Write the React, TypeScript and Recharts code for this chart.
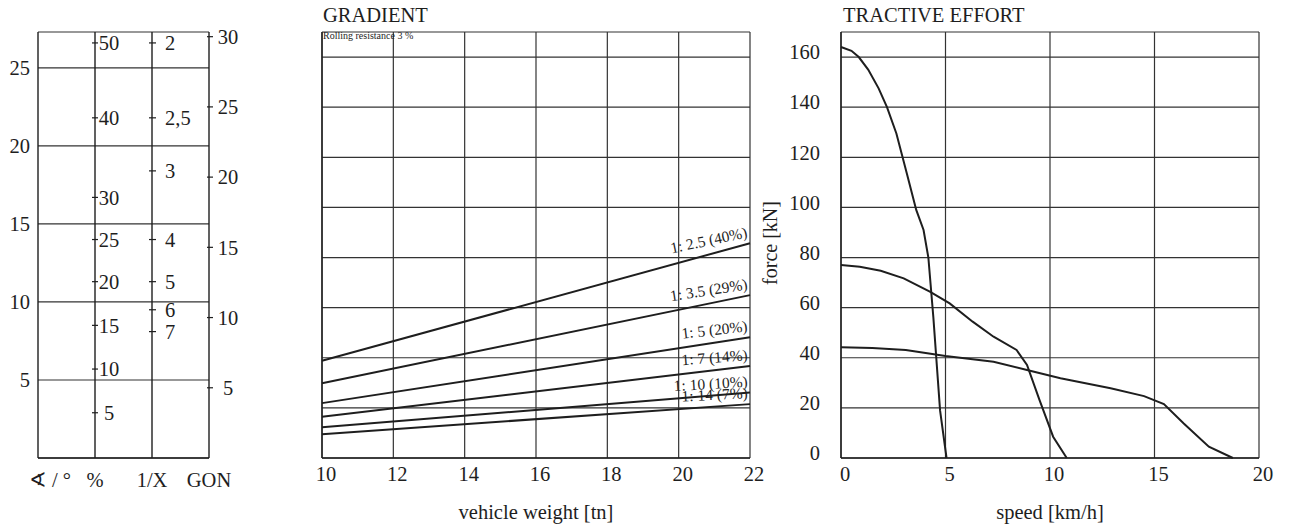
import React from "react";
import {
  ScatterChart,
  Scatter,
  ComposedChart,
  LineChart,
  Line,
  XAxis,
  YAxis,
  CartesianGrid,
  ReferenceLine,
  LabelList,
} from "recharts";

const W = 1293;
const H = 528;
const INK = "#1e1e1e";
const GRID = "#333";
const FONT = "'Liberation Serif', 'DejaVu Serif', serif";

// ---- nomogram (angle scale in degrees, other scales placed on it)
const degTicks = [5, 10, 15, 20, 25];
const scaleNames = ["∢ / °", "%", "1/X", "GON"];
const pctTicks = [
  { label: "50", deg: 26.6 },
  { label: "40", deg: 21.8 },
  { label: "30", deg: 16.7 },
  { label: "25", deg: 14.0 },
  { label: "20", deg: 11.3 },
  { label: "15", deg: 8.5 },
  { label: "10", deg: 5.7 },
  { label: "5", deg: 2.9 },
];
const invTicks = [
  { label: "2", deg: 26.6 },
  { label: "2,5", deg: 21.8 },
  { label: "3", deg: 18.4 },
  { label: "4", deg: 14.0 },
  { label: "5", deg: 11.3 },
  { label: "6", deg: 9.5 },
  { label: "7", deg: 8.1 },
];
const gonTicks = [
  { label: "30", deg: 27.0 },
  { label: "25", deg: 22.5 },
  { label: "20", deg: 18.0 },
  { label: "15", deg: 13.5 },
  { label: "10", deg: 9.0 },
  { label: "5", deg: 4.5 },
];

// ---- gradient: force [kN] against vehicle weight [tn]
const weights = [10, 22];
const weightTicks = [10, 12, 14, 16, 18, 20, 22];
const grad40 = [38.8, 85.7];
const grad29 = [29.8, 65.0];
const grad20 = [21.9, 48.2];
const grad14 = [16.5, 36.7];
const grad10 = [12.3, 26.1];
const grad7 = [9.5, 21.5];
const gradLabels = ["1: 2.5 (40%)", "1: 3.5 (29%)", "1: 5 (20%)", "1: 7 (14%)", "1: 10 (10%)", "1: 14 (7%)"];

// ---- tractive effort: force [kN] against speed [km/h]
const forceTicks = [0, 20, 40, 60, 80, 100, 120, 140, 160];
const speedTicks = [0, 5, 10, 15, 20];
const gear1 = [
  { v: 0, f: 164 }, { v: 0.5, f: 162.5 }, { v: 0.85, f: 160 }, { v: 1.3, f: 155 },
  { v: 1.8, f: 147.5 }, { v: 2.2, f: 140 }, { v: 2.65, f: 129.5 }, { v: 3.15, f: 113.5 },
  { v: 3.6, f: 99 }, { v: 3.95, f: 91 }, { v: 4.18, f: 80 }, { v: 4.42, f: 56 },
  { v: 4.74, f: 19 }, { v: 5.05, f: 0 },
];
const gear2 = [
  { v: 0, f: 77 }, { v: 0.9, f: 76.3 }, { v: 1.9, f: 74.7 }, { v: 3.0, f: 71.7 },
  { v: 4.25, f: 66.4 }, { v: 5.2, f: 61.7 }, { v: 6.3, f: 54.4 }, { v: 7.3, f: 48.4 },
  { v: 8.4, f: 43.1 }, { v: 8.9, f: 37.1 }, { v: 9.5, f: 23.1 }, { v: 10.15, f: 8.5 },
  { v: 10.8, f: 0 },
];
const gear3 = [
  { v: 0, f: 44.2 }, { v: 1.5, f: 43.9 }, { v: 3.1, f: 43.1 }, { v: 5.0, f: 40.7 },
  { v: 7.3, f: 38.4 }, { v: 8.9, f: 35.1 }, { v: 10.5, f: 31.8 }, { v: 12.9, f: 27.8 },
  { v: 14.5, f: 24.7 }, { v: 15.45, f: 21.5 }, { v: 16.4, f: 13.8 }, { v: 17.6, f: 4.5 },
  { v: 18.75, f: 0 },
];

const gradSeries = [grad40, grad29, grad20, grad14, grad10, grad7];
const gradRows = weights.map((w, i) => {
  const row: Record<string, number> = { w };
  gradSeries.forEach((s, k) => (row["g" + k] = s[i]));
  return row;
});
const labelAngles = [-12, -9, -6.5, -4.5, -3.5, -3];

const layer: React.CSSProperties = { position: "absolute", left: 0, top: 0 };
const FS = 20.5;
const tickFont = { fontSize: FS, fill: INK, fontFamily: FONT };

function scaleTick(x1: number, x2: number, tx: number, anchor: "start" | "middle") {
  return (p: any) => (
    <g>
      <line x1={p.cx + x1} x2={p.cx + x2} y1={p.cy} y2={p.cy} stroke={INK} strokeWidth={1.2} />
      <text x={p.cx + tx} y={p.cy} dy="0.35em" textAnchor={anchor} fontSize={FS} fill={INK}>
        {p.payload.label}
      </text>
    </g>
  );
}

function Nomogram() {
  const at = (x: number, list: { label: string; deg: number }[]) =>
    list.map((t) => ({ x, y: t.deg, label: t.label }));
  return (
    <ScatterChart width={W} height={H} margin={{ top: 32, left: 0, right: W - 209, bottom: H - 458 - 30 }}>
      <CartesianGrid vertical={false} stroke={GRID} strokeWidth={1.2} />
      <XAxis
        type="number"
        dataKey="x"
        domain={[0, 3]}
        ticks={[0, 1, 2, 3]}
        height={30}
        axisLine={false}
        tickLine={false}
        tick={(p: any) => (
          <text x={p.x + (p.payload.value === 0 ? 12 : 0)} y={p.y + 21} textAnchor="middle" fontSize={FS} fill={INK}>
            {scaleNames[p.payload.value]}
          </text>
        )}
      />
      <YAxis
        type="number"
        dataKey="y"
        domain={[0, 27.3]}
        ticks={degTicks}
        width={38}
        axisLine={false}
        tickLine={false}
        tick={tickFont}
      />
      {[0, 1, 2, 3].map((x) => (
        <ReferenceLine key={x} x={x} stroke={INK} strokeWidth={1.4} />
      ))}
      <ReferenceLine y={0} stroke={INK} strokeWidth={1.4} />
      <Scatter data={at(1, pctTicks)} shape={scaleTick(-3, 3, 14, "middle")} isAnimationActive={false} />
      <Scatter data={at(2, invTicks)} shape={scaleTick(-3, 4, 13, "start")} isAnimationActive={false} />
      <Scatter data={at(3, gonTicks)} shape={scaleTick(-2, 4, 19, "middle")} isAnimationActive={false} />
    </ScatterChart>
  );
}

function endLabel(k: number) {
  const last = gradSeries[k][gradSeries[k].length - 1];
  return (p: any) => {
    const x = p.x ?? p.viewBox?.x;
    const y = p.y ?? p.viewBox?.y;
    if (p.value !== last || x == null) return null;
    const lx = x - 2;
    const ly = y - 6;
    return (
      <text x={lx} y={ly} textAnchor="end" fontSize={15.5} fill={INK} transform={`rotate(${labelAngles[k]} ${lx} ${ly})`}>
        {gradLabels[k]}
      </text>
    );
  };
}

function Gradient() {
  return (
    <ComposedChart width={W} height={H} data={gradRows} margin={{ top: 32, left: 262, right: W - 750, bottom: H - 458 - 30 }}>
      <CartesianGrid stroke={GRID} strokeWidth={1.2} />
      <XAxis
        type="number"
        dataKey="w"
        domain={[10, 22]}
        ticks={weightTicks}
        height={30}
        tickLine={false}
        axisLine={{ stroke: INK, strokeWidth: 1.4 }}
        tick={{ ...tickFont, dx: 4 }}
      />
      <YAxis
        type="number"
        domain={[0, 170]}
        ticks={[...forceTicks, 170]}
        width={60}
        tick={() => <g />}
        tickLine={false}
        axisLine={{ stroke: INK, strokeWidth: 1.4 }}
      />
      {gradSeries.map((_, k) => (
        <Line key={k} type="linear" dataKey={"g" + k} stroke={INK} strokeWidth={2} dot={false} isAnimationActive={false}>
          <LabelList dataKey={"g" + k} content={endLabel(k)} />
        </Line>
      ))}
    </ComposedChart>
  );
}

function Tractive() {
  return (
    <LineChart width={W} height={H} margin={{ top: 32, left: 781, right: W - 1259, bottom: H - 458 - 30 }}>
      <CartesianGrid stroke={GRID} strokeWidth={1.2} />
      <XAxis
        type="number"
        dataKey="v"
        domain={[0, 20]}
        ticks={speedTicks}
        height={30}
        tickLine={false}
        axisLine={{ stroke: INK, strokeWidth: 1.4 }}
        tick={{ ...tickFont, dx: 4 }}
      />
      <YAxis
        type="number"
        dataKey="f"
        domain={[0, 170]}
        ticks={forceTicks}
        width={60}
        tickLine={false}
        tickMargin={15}
        axisLine={{ stroke: INK, strokeWidth: 1.4 }}
        tick={{ ...tickFont, dy: -5 }}
      />
      {[gear1, gear2, gear3].map((g, i) => (
        <Line key={i} data={g} type="linear" dataKey="f" stroke={INK} strokeWidth={2} dot={false} isAnimationActive={false} />
      ))}
    </LineChart>
  );
}

export default function App() {
  return (
    <div style={{ position: "absolute", left: 0, top: 0, width: W, height: H, background: "#fff", fontFamily: FONT }}>
      <div style={layer}>
        <Nomogram />
      </div>
      <div style={layer}>
        <Gradient />
      </div>
      <div style={layer}>
        <Tractive />
      </div>
      <svg width={W} height={H} style={{ ...layer, pointerEvents: "none" }} fontFamily={FONT} fill={INK}>
        <text x={323} y={22} fontSize={20.5}>GRADIENT</text>
        <text x={843} y={22} fontSize={20.5}>TRACTIVE EFFORT</text>
        <text x={323} y={39} fontSize={10}>Rolling resistance 3 %</text>
        <text x={536} y={519} fontSize={20.5} textAnchor="middle">vehicle weight [tn]</text>
        <text x={1050} y={519} fontSize={20.5} textAnchor="middle">speed [km/h]</text>
        <text transform="translate(777 243) rotate(-90)" fontSize={20} textAnchor="middle">force [kN]</text>
      </svg>
    </div>
  );
}
